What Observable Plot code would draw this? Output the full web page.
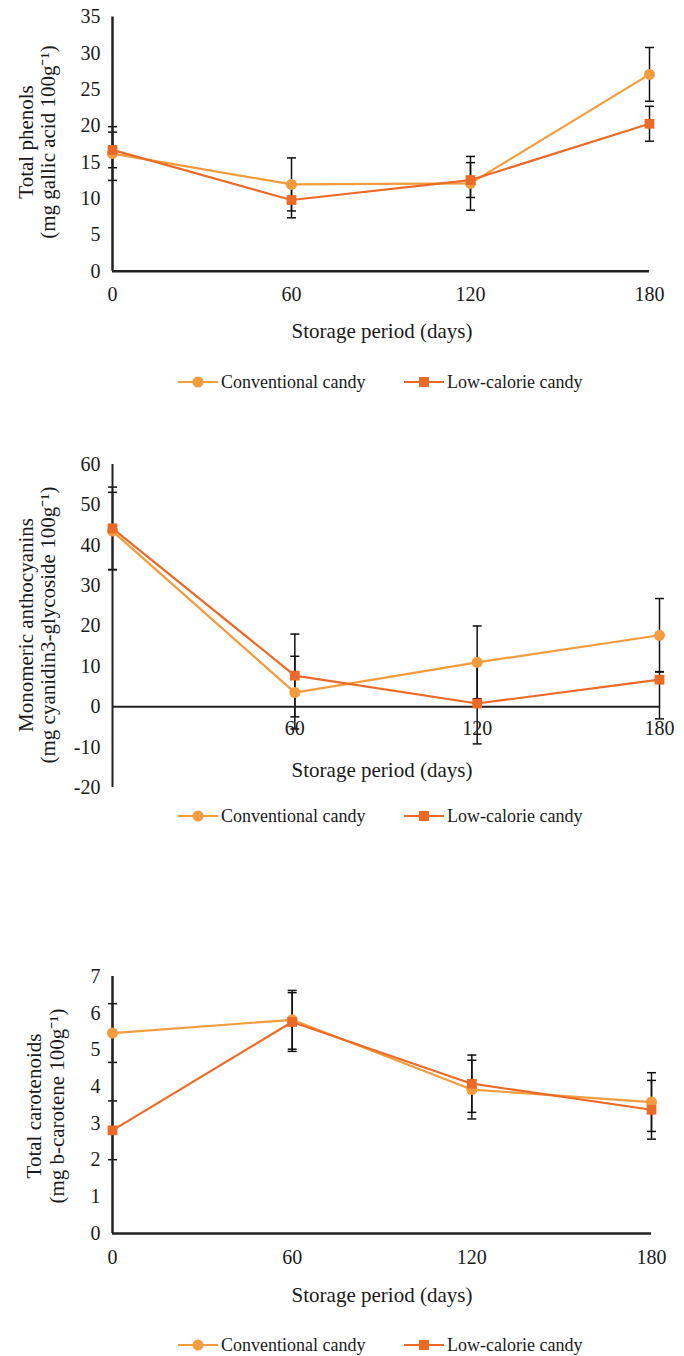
<!DOCTYPE html>
<html>
<head>
<meta charset="utf-8">
<script src="https://cdn.jsdelivr.net/npm/d3@7"></script>
<script src="https://cdn.jsdelivr.net/npm/@observablehq/plot@0.6"></script>
<style>
  body { margin: 0; background: #ffffff; }
  #root { position: relative; width: 684px; height: 1356px; overflow: hidden;
          font-family: "Liberation Serif", "Times New Roman", serif; color: #1a1a1a; }
  .abs { position: absolute; white-space: nowrap; line-height: 1; }
  .xt { transform: translate(-50%, -50%); font-size: 21px; }
  .yt { transform: translate(-50%, -50%) rotate(-90deg); font-size: 21px; }
  .lg { transform: translate(0, -50%); font-size: 18px; }
  .panel { position: absolute; left: 0; }
</style>
</head>
<body>
<div id="root"></div>
<script>
// ---------- data ----------
const days = [0, 60, 120, 180];
const seriesNames = ["Conventional candy", "Low-calorie candy"];
const seriesColors = ["#F39C3D", "#EC6A27"];
const xTitle = "Storage period (days)";

// Panel 1: Total phenols
const phenolsTitle = ["Total phenols", "(mg gallic acid 100g\u207B\u00B9)"];
const phenolsYTicks = [0, 5, 10, 15, 20, 25, 30, 35];
const phenolsConv   = [16.2, 11.95, 12.1, 27.1];
const phenolsConvSD = [3.7, 3.65, 3.7, 3.7];
const phenolsLow    = [16.7, 9.8, 12.55, 20.3];
const phenolsLowSD  = [2.45, 2.45, 2.4, 2.4];

// Panel 2: Monomeric anthocyanins
const anthoTitle = ["Monomeric anthocyanins", "(mg cyanidin3-glycoside 100g\u207B\u00B9)"];
const anthoYTicks = [-20, -10, 0, 10, 20, 30, 40, 50, 60];
const anthoXTicks = [60, 120, 180];
const anthoConv   = [43.5, 3.5, 11.0, 17.7];
const anthoConvLo = [33.9, -5.5, 2.0, 8.6];
const anthoConvHi = [53.1, 12.5, 20.0, 26.8];
const anthoLow    = [44.2, 7.7, 0.8, 6.7];
const anthoLowLo  = [34.0, -2.5, -9.2, -3.0];
const anthoLowHi  = [54.4, 18.0, 10.8, 8.7];

// Panel 3: Total carotenoids
const carotTitle = ["Total carotenoids", "(mg b-carotene 100g\u207B\u00B9)"];
const carotYTicks = [0, 1, 2, 3, 4, 5, 6, 7];
const carotConv   = [5.46, 5.82, 3.92, 3.58];
const carotConvSD = [0.8, 0.8, 0.8, 0.8];
const carotLow    = [2.81, 5.76, 4.08, 3.37];
const carotLowSD  = [0.8, 0.8, 0.78, 0.8];

// ---------- helpers ----------
function rows(conv, convLo, convHi, low, lowLo, lowHi) {
  const out = [];
  days.forEach((d, i) => {
    out.push({day: d, series: seriesNames[0], value: conv[i], lo: convLo[i], hi: convHi[i]});
    out.push({day: d, series: seriesNames[1], value: low[i], lo: lowLo[i], hi: lowHi[i]});
  });
  return out;
}
const minus = (v, e) => v.map((x, i) => x - e[i]);
const plus = (v, e) => v.map((x, i) => x + e[i]);

const capSymbol = {
  draw(ctx, size) {
    const w = Math.sqrt(size / Math.PI);
    ctx.moveTo(-w, 0);
    ctx.lineTo(w, 0);
  }
};

const root = document.getElementById("root");
function addText(cls, txt, left, top) {
  const el = document.createElement("div");
  el.className = "abs " + cls;
  el.textContent = txt;
  el.style.left = left + "px";
  el.style.top = top + "px";
  root.appendChild(el);
}
function addLegend(cy) {
  const ns = "http://www.w3.org/2000/svg";
  const spec = [{x0: 178, tx: 221, sym: "circle"}, {x0: 404, tx: 447, sym: "square"}];
  spec.forEach((s, i) => {
    const svg = document.createElementNS(ns, "svg");
    svg.setAttribute("width", 40); svg.setAttribute("height", 14);
    svg.style.position = "absolute";
    svg.style.left = s.x0 + "px"; svg.style.top = (cy - 7) + "px";
    const ln = document.createElementNS(ns, "line");
    ln.setAttribute("x1", 0); ln.setAttribute("x2", 40);
    ln.setAttribute("y1", 7); ln.setAttribute("y2", 7);
    ln.setAttribute("stroke", seriesColors[i]); ln.setAttribute("stroke-width", 2.2);
    svg.appendChild(ln);
    let m;
    if (s.sym === "circle") {
      m = document.createElementNS(ns, "circle");
      m.setAttribute("cx", 20); m.setAttribute("cy", 7); m.setAttribute("r", 5.5);
    } else {
      m = document.createElementNS(ns, "rect");
      m.setAttribute("x", 15); m.setAttribute("y", 2); m.setAttribute("width", 10); m.setAttribute("height", 10);
    }
    m.setAttribute("fill", seriesColors[i]);
    svg.appendChild(m);
    root.appendChild(svg);
    addText("lg", seriesNames[i], s.tx, cy);
  });
}

function panel(opts) {
  const data = opts.data;
  const marks = [
    Plot.ruleX(data, {x: "day", y1: "lo", y2: "hi", stroke: "#111", strokeWidth: 1.5}),
    Plot.dot(data, {x: "day", y: "lo", symbol: capSymbol, r: 4.5, stroke: "#111", strokeWidth: 1.5, fill: "none"}),
    Plot.dot(data, {x: "day", y: "hi", symbol: capSymbol, r: 4.5, stroke: "#111", strokeWidth: 1.5, fill: "none"}),
    Plot.ruleY([0], {stroke: "#222", strokeWidth: opts.axisWidth}),
    Plot.ruleX([0], {stroke: "#222", strokeWidth: opts.axisWidth}),
    Plot.line(data, {x: "day", y: "value", z: "series", stroke: "series", strokeWidth: 2.2}),
    Plot.dot(data, {x: "day", y: "value", symbol: "series", fill: "series", r: 5.5}),
    Plot.axisY({ticks: opts.yTicks, tickSize: 0, tickPadding: 12, fontSize: 20, tickFormat: d => String(d), label: null})
  ];
  if (opts.xTicks) {
    marks.push(Plot.text(opts.xTicks, {x: d => d, y: d => 0, dy: 22, fontSize: 20, fill: "#1a1a1a"}));
  } else {
    marks.push(Plot.axisX({ticks: days, tickSize: 0, tickPadding: 16, fontSize: 20, label: null}));
  }
  const chart = Plot.plot({
    width: 684,
    height: opts.height,
    marginTop: opts.marginTop,
    marginBottom: opts.marginBottom,
    marginLeft: 112,
    marginRight: opts.marginRight,
    style: {fontFamily: "Liberation Serif, Times New Roman, serif", fontSize: "20px", color: "#1a1a1a", background: "transparent", overflow: "visible"},
    x: {domain: [0, 180], axis: null},
    y: {domain: opts.yDomain, axis: null},
    color: {domain: seriesNames, range: seriesColors},
    symbol: {domain: seriesNames, range: ["circle", "square"]},
    marks
  });
  chart.classList.add("panel");
  chart.style.top = opts.top + "px";
  root.appendChild(chart);
}

// Panel 1
panel({
  data: rows(phenolsConv, minus(phenolsConv, phenolsConvSD), plus(phenolsConv, phenolsConvSD),
             phenolsLow, minus(phenolsLow, phenolsLowSD), plus(phenolsLow, phenolsLowSD)),
  yDomain: [0, 35], yTicks: phenolsYTicks,
  top: 0, height: 310, marginTop: 16.5, marginBottom: 39.3, marginRight: 35, axisWidth: 2.5
});
addText("yt", phenolsTitle[0], 26, 142);
addText("yt", phenolsTitle[1], 48, 142);
addText("xt", xTitle, 382, 331);
addLegend(382);

// Panel 2
panel({
  data: rows(anthoConv, anthoConvLo, anthoConvHi, anthoLow, anthoLowLo, anthoLowHi),
  yDomain: [-20, 60], yTicks: anthoYTicks, xTicks: anthoXTicks,
  top: 440, height: 360, marginTop: 24, marginBottom: 13, marginRight: 25, axisWidth: 2
});
addText("yt", anthoTitle[0], 26, 625);
addText("yt", anthoTitle[1], 48, 625);
addText("xt", xTitle, 382, 770);
addLegend(816);

// Panel 3
panel({
  data: rows(carotConv, minus(carotConv, carotConvSD), plus(carotConv, carotConvSD),
             carotLow, minus(carotLow, carotLowSD), plus(carotLow, carotLowSD)),
  yDomain: [0, 7], yTicks: carotYTicks,
  top: 960, height: 310, marginTop: 16, marginBottom: 37, marginRight: 33, axisWidth: 2.5
});
addText("yt", carotTitle[0], 34, 1106);
addText("yt", carotTitle[1], 57, 1106);
addText("xt", xTitle, 382, 1295);
addLegend(1345);
</script>
</body>
</html>
